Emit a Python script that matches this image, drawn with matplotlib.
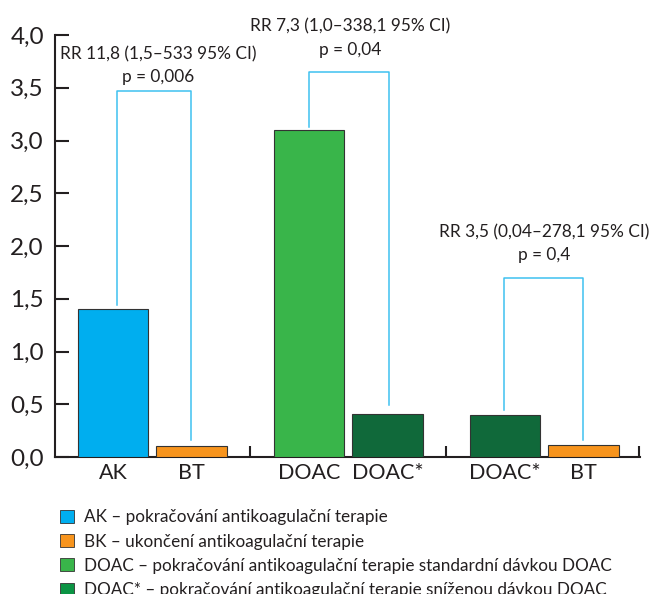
import matplotlib
matplotlib.use("Agg")
import matplotlib.pyplot as plt
from matplotlib.patches import Patch

plt.rcParams['font.family'] = ['Lato', 'DejaVu Sans']

# ---- data ----
bar_labels = ["AK", "BT", "DOAC", "DOAC*", "DOAC*", "BT"]
bar_values = [1.4, 0.1, 3.1, 0.41, 0.40, 0.11]
bar_positions = [0, 1, 2.5, 3.5, 5, 6]
separator_positions = [1.75, 4.25, 6.71]

rr_texts = ["RR 11,8 (1,5–533 95% CI)", "RR 7,3 (1,0–338,1 95% CI)", "RR 3,5 (0,04–278,1 95% CI)"]
p_texts = ["p = 0,006", "p = 0,04", "p = 0,4"]
bracket_left = [0.05, 2.5, 4.99]
bracket_right = [1.0, 3.52, 5.99]
bracket_top = [3.47, 3.65, 1.70]
bracket_left_bottom = [1.44, 3.13, 0.45]
bracket_right_bottom = [0.16, 0.49, 0.16]
text_x = [0.58, 3.02, 5.5]
rr_y = [3.82, 4.08, 2.13]
p_y = [3.6, 3.86, 1.91]

legend_labels = [
    "AK – pokračování antikoagulační terapie",
    "BK – ukončení antikoagulační terapie",
    "DOAC – pokračování antikoagulační terapie standardní dávkou DOAC",
    "DOAC* – pokračování antikoagulační terapie sníženou dávkou DOAC",
]

# ---- styles ----
c_blue = "#00aeef"
c_orange = "#f7941d"
c_green = "#39b54a"
c_dkgreen = "#10693a"
c_legend_dkgreen = "#0b9444"
bar_colors = [c_blue, c_orange, c_green, c_dkgreen, c_dkgreen, c_orange]
legend_colors = [c_blue, c_orange, c_green, c_legend_dkgreen]
line_c = "#3fc1f0"
dark = "#231f20"

fig = plt.figure(figsize=(6.51, 5.94), dpi=100)
ax = fig.add_axes([55/651, 1 - 457/594, (640 - 55)/651, (457 - 35)/594])

ax.bar(bar_positions, bar_values, width=0.9, color=bar_colors,
       edgecolor="#333333", linewidth=0.8, zorder=3)

for i in range(3):
    ax.plot([bracket_left[i], bracket_left[i], bracket_right[i], bracket_right[i]],
            [bracket_left_bottom[i], bracket_top[i], bracket_top[i], bracket_right_bottom[i]],
            color=line_c, lw=1.1, clip_on=False, zorder=2)
    ax.text(text_x[i], rr_y[i], rr_texts[i], ha="center", va="center",
            fontsize=12.4, color=dark, clip_on=False)
    ax.text(text_x[i], p_y[i], p_texts[i], ha="center", va="center",
            fontsize=12.4, color=dark, clip_on=False)

ax.set_xlim(-0.74, 6.72)
ax.set_ylim(0, 4.0)
ax.set_yticks([0, 0.5, 1.0, 1.5, 2.0, 2.5, 3.0, 3.5, 4.0])
ax.set_yticklabels(["0,0", "0,5", "1,0", "1,5", "2,0", "2,5", "3,0", "3,5", "4,0"])
ax.set_xticks(bar_positions)
ax.set_xticklabels(bar_labels)
ax.set_xticks(separator_positions, minor=True)

for s in ["top", "right"]:
    ax.spines[s].set_visible(False)
for s in ["left", "bottom"]:
    ax.spines[s].set_linewidth(1.5)
    ax.spines[s].set_color(dark)

ax.tick_params(axis="y", direction="in", length=10, width=1.5, color=dark,
               labelsize=17.5, labelcolor=dark, pad=8)
ax.tick_params(axis="x", which="major", length=0, labelsize=15.5, labelcolor=dark, pad=4)
ax.tick_params(axis="x", which="minor", direction="in", length=8, width=1.5, color=dark)

handles = [Patch(facecolor=c, edgecolor="#333333", linewidth=0.6) for c in legend_colors]
fig.legend(handles, legend_labels, loc="upper left", bbox_to_anchor=(57/651, 1 - 506/594),
           frameon=False, fontsize=12.3, handlelength=0.8, handleheight=0.8,
           handletextpad=0.6, labelspacing=0.48, borderaxespad=0, borderpad=0.2,
           labelcolor=dark)

fig.savefig("out.png", dpi=100)
